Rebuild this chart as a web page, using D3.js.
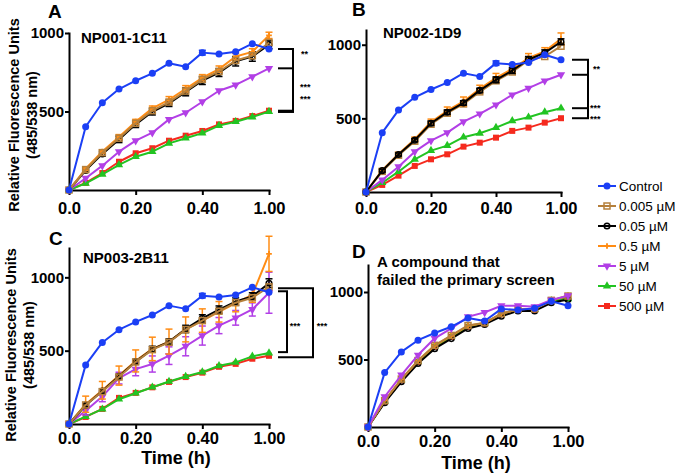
<!DOCTYPE html>
<html>
<head>
<meta charset="utf-8">
<script src="https://cdn.jsdelivr.net/npm/d3@7"></script>
<style>
  body { margin: 0; background: #fff; }
  text { font-family: "Liberation Sans", Arial, sans-serif; }
</style>
</head>
<body>
<script>
// time points in minutes (labels read as h.mm)
const minutes = [0, 5, 10, 15, 20, 25, 30, 35, 40, 45, 50, 55, 60];
const xTickValues = [0, 20, 40, 60];
const xTickLabels = ["0.0", "0.20", "0.40", "1.00"];
const yTickValues = [500, 1000];

const seriesNames = ["Control", "0.005 µM", "0.05 µM", "0.5 µM", "5 µM", "50 µM", "500 µM"];
const seriesColors = ["#1b3ff5", "#b5803c", "#000000", "#ff8c14", "#b23fe6", "#22c422", "#f52a1e"];

// control (same in every panel)
const control = [0, 403, 556, 643, 696, 743, 807, 785, 875, 866, 880, 932, 898];
const controlErr = [0, 0, 0, 0, 0, 0, 0, 0, 15, 0, 0, 0, 0];

// A - NP001-1C11
const a0005 = [0, 130, 238, 330, 425, 505, 560, 630, 705, 755, 825, 855, 940];
const a005 = [0, 125, 230, 322, 418, 498, 552, 625, 697, 748, 820, 850, 925];
const a05 = [0, 135, 245, 338, 435, 520, 575, 645, 715, 770, 850, 880, 985];
const a5 = [0, 75, 155, 244, 314, 365, 450, 492, 562, 632, 669, 722, 775];
const a50 = [0, 42, 100, 160, 212, 244, 297, 330, 362, 410, 435, 465, 499];
const a500 = [0, 45, 108, 180, 234, 266, 314, 346, 376, 418, 440, 471, 505];
const a005Err = [0, 10, 15, 20, 20, 20, 20, 25, 25, 25, 30, 30, 25];
const a05Err = [0, 10, 10, 15, 15, 15, 20, 20, 20, 20, 20, 20, 20];

// B - NP002-1D9
const b0005 = [0, 140, 250, 345, 460, 535, 598, 680, 755, 815, 895, 920, 990];
const b005 = [0, 145, 255, 352, 467, 542, 605, 690, 762, 825, 900, 945, 1020];
const b05 = [0, 148, 258, 358, 475, 552, 615, 700, 775, 835, 910, 955, 1040];
const b5 = [0, 82, 172, 274, 349, 403, 478, 531, 592, 660, 705, 755, 796];
const b50 = [0, 63, 138, 222, 281, 315, 372, 399, 437, 483, 508, 542, 569];
const b500 = [0, 48, 111, 177, 222, 256, 308, 335, 369, 415, 437, 471, 501];
const b005Err = [0, 10, 10, 10, 15, 15, 15, 15, 20, 20, 20, 20, 20];
const b05Err = [0, 10, 10, 15, 20, 25, 30, 25, 30, 25, 30, 25, 40];

// C - NP003-2B11
const c0005 = [0, 130, 221, 320, 423, 507, 557, 644, 705, 769, 827, 861, 935];
const c005 = [0, 128, 225, 325, 425, 510, 560, 648, 720, 780, 835, 870, 960];
const c05 = [0, 135, 230, 330, 430, 512, 562, 645, 705, 765, 825, 880, 1160];
const c5 = [0, 91, 187, 313, 374, 409, 466, 530, 603, 671, 724, 781, 895];
const c50 = [0, 50, 101, 169, 210, 251, 290, 324, 354, 397, 420, 461, 484];
const c500 = [0, 48, 103, 178, 212, 250, 287, 320, 350, 390, 410, 445, 465];
const c005Err = [0, 10, 15, 15, 15, 20, 20, 25, 25, 25, 25, 25, 30];
const c05Err = [0, 55, 60, 65, 75, 80, 85, 85, 80, 70, 60, 50, 120];
const c5Err = [0, 30, 35, 40, 45, 55, 60, 65, 65, 55, 50, 45, 140];

// D - compound that failed the primary screen
const d0005 = [0, 195, 355, 492, 605, 678, 752, 772, 840, 872, 875, 938, 970];
const d005 = [0, 180, 335, 470, 580, 655, 730, 760, 820, 860, 860, 920, 945];
const d05 = [0, 195, 352, 490, 602, 675, 750, 770, 840, 872, 875, 935, 975];
const d5 = [0, 224, 385, 533, 657, 731, 817, 849, 898, 898, 891, 941, 973];
const d50 = [0, 190, 350, 485, 598, 670, 745, 768, 838, 870, 870, 935, 950];
const d500 = [0, 188, 345, 480, 595, 668, 742, 765, 835, 868, 868, 932, 955];

const svg = d3.select("body").append("svg")
    .attr("width", 675)
    .attr("height", 476);

// marker for each series index
function marker(sel, i, cx, cy) {
    const c = seriesColors[i];
    if (i === 0) {
        sel.append("circle").attr("cx", cx).attr("cy", cy).attr("r", 3.5).attr("fill", c);
    } else if (i === 1) {
        sel.append("rect").attr("x", cx - 3).attr("y", cy - 3).attr("width", 6).attr("height", 6)
            .attr("fill", "none").attr("stroke", c).attr("stroke-width", 1.5);
    } else if (i === 2) {
        sel.append("circle").attr("cx", cx).attr("cy", cy).attr("r", 2.8)
            .attr("fill", "none").attr("stroke", c).attr("stroke-width", 1.5);
    } else if (i === 3) {
        sel.append("path").attr("d", d3.symbol().type(d3.symbolCross).size(18)())
            .attr("transform", `translate(${cx},${cy})`).attr("fill", c);
    } else if (i === 4) {
        sel.append("path").attr("d", d3.symbol().type(d3.symbolTriangle).size(30)())
            .attr("transform", `translate(${cx},${cy}) rotate(180)`).attr("fill", c);
    } else if (i === 5) {
        sel.append("path").attr("d", d3.symbol().type(d3.symbolTriangle).size(30)())
            .attr("transform", `translate(${cx},${cy})`).attr("fill", c);
    } else {
        sel.append("rect").attr("x", cx - 3).attr("y", cy - 3).attr("width", 6).attr("height", 6).attr("fill", c);
    }
}

function drawPanel(p) {
    const x = d3.scaleLinear().domain([0, 60]).range([p.left, p.right]);
    const y = d3.scaleLinear().domain([0, p.yMax]).range([p.bottom, p.top]);
    const g = svg.append("g");

    //Axes.
    const xAxis = d3.axisBottom(x).tickValues(xTickValues)
        .tickFormat((d, i) => xTickLabels[i]).tickSize(5).tickSizeOuter(0).tickPadding(p.gap);
    const xg = g.append("g").attr("transform", "translate(0," + p.bottom + ")").call(xAxis);
    xg.selectAll("text").attr("font-size", 16.5).attr("font-weight", "bold").attr("fill", "#000");

    const yAxis = d3.axisLeft(y).tickValues(yTickValues).tickFormat(d3.format("d"))
        .tickSize(4).tickSizeOuter(0).tickPadding(1);
    const yg = g.append("g").attr("transform", "translate(" + p.left + ",0)").call(yAxis);
    yg.selectAll("text").attr("font-size", 15).attr("font-weight", "bold").attr("fill", "#000");

    g.selectAll(".domain").attr("stroke-width", 2).attr("stroke-linecap", "square");
    g.selectAll(".tick line").attr("stroke-width", 2);

    //Series: lines, error bars, markers.
    const line = d3.line().x((d, i) => x(minutes[i])).y(d => y(d));
    p.series.forEach(s => {
        const idx = s[0], vals = s[1], err = s[2];
        const c = seriesColors[idx];
        const sg = g.append("g");
        sg.append("path").attr("d", line(vals)).attr("fill", "none")
            .attr("stroke", c).attr("stroke-width", 2).attr("stroke-linejoin", "round");
        if (err) {
            vals.forEach((v, i) => {
                if (!err[i]) return;
                const px = x(minutes[i]);
                const y1 = y(v - err[i]), y2 = y(v + err[i]);
                sg.append("line").attr("x1", px).attr("x2", px).attr("y1", y1).attr("y2", y2)
                    .attr("stroke", c).attr("stroke-width", 1.5);
                [y1, y2].forEach(yy => {
                    sg.append("line").attr("x1", px - 3.5).attr("x2", px + 3.5).attr("y1", yy).attr("y2", yy)
                        .attr("stroke", c).attr("stroke-width", 1.5);
                });
            });
        }
        vals.forEach((v, i) => marker(sg, idx, x(minutes[i]), y(v)));
    });

    //Significance brackets.
    (p.brackets || []).forEach(b => {
        const x1 = x(60) + b.dx1, x2 = x(60) + b.dx2;
        const ys = b.levels.map(v => y(v));
        g.append("line").attr("x1", x2).attr("x2", x2)
            .attr("y1", d3.min(ys)).attr("y2", d3.max(ys))
            .attr("stroke", "#000").attr("stroke-width", 2);
        ys.forEach(yy => {
            g.append("line").attr("x1", x1).attr("x2", x2 + 1).attr("y1", yy).attr("y2", yy)
                .attr("stroke", "#000").attr("stroke-width", 2);
        });
    });
    (p.stars || []).forEach(s => {
        g.append("text").attr("x", x(60) + s.dx).attr("y", y(s.v) + 4)
            .attr("text-anchor", s.anchor || "start").attr("fill", "#000")
            .attr("font-size", 9).attr("font-weight", "bold").text(s.t);
    });

    //Panel title and letter.
    p.title.forEach((t, i) => {
        g.append("text").attr("x", p.titleX).attr("y", p.titleY + i * 18)
            .attr("font-size", 15).attr("font-weight", "bold").text(t);
    });
    g.append("text").attr("x", p.letterX).attr("y", p.letterY)
        .attr("font-size", 19).attr("font-weight", "bold").text(p.letter);

    if (p.yTitle) {
        const lines = ["Relative Fluorescence Units", "(485/538 nm)"];
        lines.forEach((t, i) => {
            g.append("text")
                .attr("transform", "translate(" + (p.yTitleX + i * 18) + "," + p.yTitleY + ") rotate(-90)")
                .attr("text-anchor", "middle").attr("font-size", 14.5).attr("font-weight", "bold").text(t);
        });
    }
    if (p.xTitle) {
        g.append("text").attr("x", p.xTitleX).attr("y", p.xTitleY)
            .attr("text-anchor", "middle").attr("font-size", 18).attr("font-weight", "bold").text("Time (h)");
    }
}

drawPanel({
    letter: "A", letterX: 48, letterY: 18,
    title: ["NP001-1C11"], titleX: 81, titleY: 43,
    left: 69, right: 269, top: 33, bottom: 190, yMax: 1000, gap: 7,
    yTitle: true, yTitleX: 19, yTitleY: 115,
    series: [[6, a500], [5, a50], [4, a5], [2, a005, a005Err], [3, a05, a05Err], [1, a0005], [0, control, controlErr]],
    brackets: [{ dx1: 9, dx2: 24, levels: [898, 775, 505, 497] }],
    stars: [{ dx: 32, v: 873, t: "**" }, { dx: 31, v: 660, t: "***" }, { dx: 31, v: 585, t: "***" }]
});

drawPanel({
    letter: "B", letterX: 352, letterY: 16,
    title: ["NP002-1D9"], titleX: 383, titleY: 38,
    left: 366, right: 561, top: 30, bottom: 192, yMax: 1100, gap: 5,
    series: [[6, b500], [5, b50], [4, b5], [1, b0005], [3, b05, b05Err], [2, b005, b005Err], [0, control, controlErr]],
    brackets: [{ dx1: 11, dx2: 27, levels: [898, 796, 569, 501] }],
    stars: [{ dx: 32, v: 844, t: "**" }, { dx: 29, v: 578, t: "***" }, { dx: 29, v: 503, t: "***" }]
});

drawPanel({
    letter: "C", letterX: 49, letterY: 245,
    title: ["NP003-2B11"], titleX: 83, titleY: 263,
    left: 69, right: 269, top: 248, bottom: 424, yMax: 1200, gap: 3,
    yTitle: true, yTitleX: 16, yTitleY: 345,
    xTitle: true, xTitleX: 176, xTitleY: 464,
    series: [[6, c500], [5, c50], [4, c5, c5Err], [3, c05, c05Err], [2, c005, c005Err], [1, c0005], [0, control, controlErr]],
    brackets: [{ dx1: 9, dx2: 18, levels: [905, 490] }, { dx1: 9, dx2: 44, levels: [925, 455] }],
    stars: [{ dx: 26, v: 672, t: "***", anchor: "middle" }, { dx: 53, v: 672, t: "***", anchor: "middle" }]
});

drawPanel({
    letter: "D", letterX: 352, letterY: 258,
    title: ["A compound that", "failed the primary screen"], titleX: 377, titleY: 267,
    left: 368, right: 568, top: 265, bottom: 427, yMax: 1200, gap: 3,
    xTitle: true, xTitleX: 476, xTitleY: 469,
    series: [[6, d500], [5, d50], [2, d005], [3, d05], [1, d0005], [4, d5], [0, control]]
});

//Legend.
const legend = svg.append("g");
seriesNames.forEach((name, i) => {
    const cy = 186 + i * 20;
    legend.append("line").attr("x1", 598).attr("x2", 616).attr("y1", cy).attr("y2", cy)
        .attr("stroke", seriesColors[i]).attr("stroke-width", 2);
    marker(legend, i, 607, cy);
    legend.append("text").attr("x", 619).attr("y", cy + 5).attr("font-size", 13.5).text(name);
});
</script>
</body>
</html>
